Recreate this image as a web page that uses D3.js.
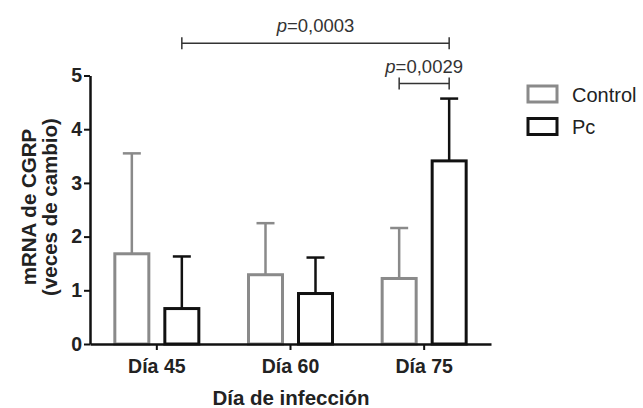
<!DOCTYPE html>
<html>
<head>
<meta charset="utf-8">
<script src="https://cdn.jsdelivr.net/npm/d3@7"></script>
<style>
  body { margin: 0; background: #fff; }
  text { font-family: "Liberation Sans", Arial, Helvetica, sans-serif; }
</style>
</head>
<body>
<svg id="chart" width="643" height="408"></svg>
<script>
var categories = ['Día 45', 'Día 60', 'Día 75'];
var seriesNames = ['Control', 'Pc'];
var controlMean = [1.68, 1.29, 1.22];
var controlSD = [1.87, 0.96, 0.94];
var pcMean = [0.66, 0.94, 3.41];
var pcSD = [0.97, 0.67, 1.16];
var yTicks = [0, 1, 2, 3, 4, 5];
// significance brackets: [category, series] -> [category, series]
var brackets = [
  { from: ['Día 45', 'Pc'], to: ['Día 75', 'Pc'], level: 5.6, label: '0,0003' },
  { from: ['Día 75', 'Control'], to: ['Día 75', 'Pc'], level: 4.85, label: '0,0029' }
];

var colors = { Control: '#8a8a8a', Pc: '#111' };

var svg = d3.select('#chart');

var x = d3.scaleBand()
  .domain(categories)
  .range([90, 491])
  .padding(0);

var inner = d3.scalePoint()
  .domain(seriesNames)
  .range([-25, 25]);

var y = d3.scaleLinear()
  .domain([0, 5])
  .range([344, 75.5]);

function cx(cat, s) {
  return x(cat) + x.bandwidth() / 2 + inner(s);
}

var rows = [];
categories.forEach(function(c, i) {
  rows.push({ cat: c, s: 'Control', v: controlMean[i], sd: controlSD[i] });
  rows.push({ cat: c, s: 'Pc', v: pcMean[i], sd: pcSD[i] });
});

var barW = 34;

// error bars (up only)
var err = svg.append('g').attr('class', 'err');
err.selectAll('line.v')
  .data(rows)
  .enter().append('line')
    .attr('x1', function(d) { return cx(d.cat, d.s); })
    .attr('x2', function(d) { return cx(d.cat, d.s); })
    .attr('y1', function(d) { return y(d.v); })
    .attr('y2', function(d) { return y(d.v + d.sd); })
    .attr('stroke', function(d) { return colors[d.s]; })
    .attr('stroke-width', 2.5);
err.selectAll('line.cap')
  .data(rows)
  .enter().append('line')
    .attr('x1', function(d) { return cx(d.cat, d.s) - 9; })
    .attr('x2', function(d) { return cx(d.cat, d.s) + 9; })
    .attr('y1', function(d) { return y(d.v + d.sd); })
    .attr('y2', function(d) { return y(d.v + d.sd); })
    .attr('stroke', function(d) { return colors[d.s]; })
    .attr('stroke-width', 2.5);

// bars
svg.append('g')
  .selectAll('rect')
  .data(rows)
  .enter().append('rect')
    .attr('x', function(d) { return cx(d.cat, d.s) - barW / 2; })
    .attr('y', function(d) { return y(d.v); })
    .attr('width', barW)
    .attr('height', function(d) { return y(0) - y(d.v); })
    .attr('fill', '#fff')
    .attr('stroke', function(d) { return colors[d.s]; })
    .attr('stroke-width', 3);

// axes
var axisY = d3.axisLeft(y)
  .tickValues(yTicks)
  .tickFormat(d3.format('d'))
  .tickSize(6)
  .tickSizeOuter(0)
  .tickPadding(2);

var gy = svg.append('g')
  .attr('transform', 'translate(90,0)')
  .call(axisY);

var axisX = d3.axisBottom(x)
  .tickSize(6)
  .tickSizeOuter(0)
  .tickPadding(9);

var gx = svg.append('g')
  .attr('transform', 'translate(0,344)')
  .call(axisX);

[gx, gy].forEach(function(g) {
  g.select('.domain').attr('stroke', '#111').attr('stroke-width', 2.5);
  g.selectAll('.tick line').attr('stroke', '#111').attr('stroke-width', 2);
  g.selectAll('.tick text')
    .attr('fill', '#222')
    .style('font-size', '19.5px')
    .style('font-weight', 'bold');
});

// axis titles
svg.append('text')
  .attr('x', 291)
  .attr('y', 405)
  .attr('text-anchor', 'middle')
  .attr('fill', '#222')
  .style('font-size', '20.5px')
  .style('font-weight', 'bold')
  .text('Día de infección');

var yt = svg.append('text')
  .attr('transform', 'translate(0,207) rotate(-90)')
  .attr('text-anchor', 'middle')
  .attr('fill', '#222')
  .style('font-size', '20.5px')
  .style('font-weight', 'bold');
yt.append('tspan').attr('x', 0).attr('y', 36).text('mRNA de CGRP');
yt.append('tspan').attr('x', 0).attr('y', 57).text('(veces de cambio)');

// significance brackets
var br = svg.append('g').selectAll('g')
  .data(brackets)
  .enter().append('g');

br.append('line')
  .attr('x1', function(d) { return cx(d.from[0], d.from[1]); })
  .attr('x2', function(d) { return cx(d.to[0], d.to[1]); })
  .attr('y1', function(d) { return y(d.level); })
  .attr('y2', function(d) { return y(d.level); })
  .attr('stroke', '#333')
  .attr('stroke-width', 1.5);
br.selectAll('line.end')
  .data(function(d) { return [[d.from, d.level], [d.to, d.level]]; })
  .enter().append('line')
    .attr('x1', function(e) { return cx(e[0][0], e[0][1]); })
    .attr('x2', function(e) { return cx(e[0][0], e[0][1]); })
    .attr('y1', function(e) { return y(e[1]) - 6; })
    .attr('y2', function(e) { return y(e[1]) + 6; })
    .attr('stroke', '#333')
    .attr('stroke-width', 1.5);

var pt = br.append('text')
  .attr('x', function(d) { return (cx(d.from[0], d.from[1]) + cx(d.to[0], d.to[1])) / 2; })
  .attr('y', function(d) { return y(d.level) - 11; })
  .attr('text-anchor', 'middle')
  .attr('fill', '#333')
  .style('font-size', '18.5px');
pt.append('tspan').style('font-style', 'italic').text('p');
pt.append('tspan').text(function(d) { return '=' + d.label; });

// legend
var lg = svg.append('g').selectAll('g')
  .data(seriesNames)
  .enter().append('g')
    .attr('transform', function(d, i) { return 'translate(528,' + (86 + i * 32.5) + ')'; });

lg.append('rect')
  .attr('width', 29)
  .attr('height', 16)
  .attr('fill', '#fff')
  .attr('stroke', function(d) { return colors[d]; })
  .attr('stroke-width', 3);

lg.append('text')
  .attr('x', 44)
  .attr('y', 15.5)
  .attr('fill', '#222')
  .style('font-size', '20px')
  .text(function(d) { return d; });
</script>
</body>
</html>
